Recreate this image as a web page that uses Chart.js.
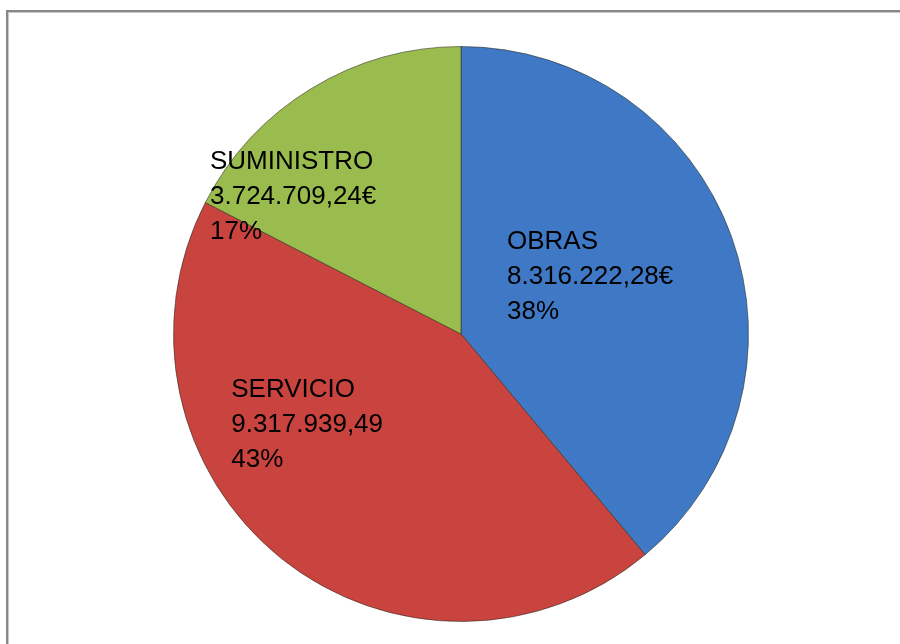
<!DOCTYPE html>
<html>
<head>
<meta charset="utf-8">
<script src="https://cdn.jsdelivr.net/npm/chart.js@4"></script>
<style>
  html, body { margin: 0; padding: 0; background: #fff; overflow: hidden; }
  #wrap { position: relative; width: 900px; height: 644px; }
  #marco { position: absolute; left: 6px; top: 10px; width: 1000px; height: 1000px;
           border-top: 2px solid #878787; border-left: 2px solid #878787;
           box-shadow: inset 1px 1px 0 #c8c8c8; }
  #grafica { position: absolute; left: 0; top: 0; }
</style>
</head>
<body>
<div id="wrap">
  <div id="marco"></div>
  <canvas id="grafica" width="900" height="644"></canvas>
</div>
<script>
var categorias = ["OBRAS", "SERVICIO", "SUMINISTRO"];
var importes = [8316222.28, 9317939.49, 3724709.24];
var textoImporte = ["8.316.222,28€", "9.317.939,49", "3.724.709,24€"];
var textoPorcentaje = ["38%", "43%", "17%"];

// colores: claro (centro), medio, oscuro (borde)
var colores = [
    ['#4a87d8', '#3f78c4', '#30599a'],
    ['#de5552', '#c9433f', '#9f322f'],
    ['#abce5e', '#9abc4e', '#789437']
];
// desplazamiento de cada etiqueta respecto al centroide del sector
var desplaza = [[-6, -8], [-64, -21], [-93, -14]];

function relleno(c) {
    var chart = c.chart;
    var i = c.dataIndex;
    var meta = chart.getDatasetMeta(0);
    var arco = meta.data[i];
    if (!arco || !arco.outerRadius) return colores[i][1];
    var g = chart.ctx.createRadialGradient(arco.x, arco.y, 0, arco.x, arco.y, arco.outerRadius);
    g.addColorStop(0, colores[i][0]);
    g.addColorStop(0.75, colores[i][1]);
    g.addColorStop(0.95, colores[i][1]);
    g.addColorStop(1, colores[i][2]);
    return g;
}

var etiquetas = {
    id: 'etiquetas',
    afterDatasetsDraw: function (chart) {
        var ctx = chart.ctx;
        var meta = chart.getDatasetMeta(0);
        ctx.save();
        ctx.font = '26px "Liberation Sans", Arial, sans-serif';
        ctx.fillStyle = '#000';
        ctx.textBaseline = 'middle';
        ctx.textAlign = 'left';
        meta.data.forEach(function (arco, i) {
            var p = arco.tooltipPosition();
            var lineas = [categorias[i], textoImporte[i], textoPorcentaje[i]];
            var ancho = 0;
            lineas.forEach(function (t) { ancho = Math.max(ancho, ctx.measureText(t).width); });
            var x = p.x + desplaza[i][0] - ancho / 2;
            var y = p.y + desplaza[i][1] - 35;
            lineas.forEach(function (t, k) { ctx.fillText(t, x, y + k * 35); });
        });
        ctx.restore();
    }
};

var ctx = document.getElementById("grafica").getContext('2d');
var grafica = new Chart(ctx, {
    type: 'pie',
    data: {
        labels: categorias,
        datasets: [{
            data: importes,
            backgroundColor: relleno,
            borderColor: 'rgba(40, 40, 30, 0.55)',
            borderWidth: 1
        }]
    },
    options: {
        responsive: false,
        animation: false,
        layout: { padding: { top: 46, bottom: 22, left: 173, right: 151 } },
        plugins: {
            legend: { display: false },
            tooltip: { enabled: false }
        }
    },
    plugins: [etiquetas]
});
</script>
</body>
</html>
